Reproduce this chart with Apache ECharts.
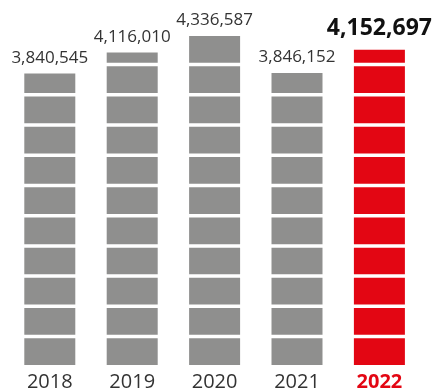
<!DOCTYPE html>
<html>
<head>
<meta charset="utf-8">
<script src="https://cdn.jsdelivr.net/npm/echarts@6/dist/echarts.min.js"></script>
<style>
  html, body { margin: 0; padding: 0; background: #ffffff; }
  #chart { width: 435px; height: 392px; }
</style>
</head>
<body>
<div id="chart"></div>
<script>
// Yearly totals
var years = ['2018', '2019', '2020', '2021', '2022'];
var totals = [3840545, 4116010, 4336587, 3846152, 4152697];
var currentYear = '2022';

var GREY = '#8f8f8e';
var RED = '#e30613';
var TEXT = '#333333';

var fmt = function (v) { return v.toLocaleString('en-US'); };

var categoryData = years.map(function (y) {
  return y === currentYear
    ? { value: y, textStyle: { color: RED, fontWeight: 'bold' } }
    : y;
});

// Segmented columns
var blockData = years.map(function (y, i) {
  return {
    value: totals[i],
    itemStyle: { color: y === currentYear ? RED : GREY }
  };
});

// Invisible bars carrying the value labels at the true bar top
var labelData = years.map(function (y, i) {
  var hot = y === currentYear;
  return {
    value: totals[i],
    label: hot
      ? { color: '#111111', fontWeight: 'bold', fontSize: 23, distance: 10 }
      : {}
  };
});

var chart = echarts.init(document.getElementById('chart'), null, { renderer: 'canvas' });
chart.setOption({
  animation: false,
  textStyle: { fontFamily: 'Open Sans' },
  grid: { left: 8.6, width: 412, top: 5.9, bottom: 26.3 },
  xAxis: {
    type: 'category',
    data: categoryData,
    axisLine: { show: false },
    axisTick: { show: false },
    axisLabel: { fontSize: 20, color: TEXT, margin: 7, fontFamily: 'Open Sans' }
  },
  yAxis: {
    type: 'value',
    min: 0,
    max: 4730000,
    show: false,
    splitLine: { show: false }
  },
  series: [{
    type: 'pictorialBar',
    symbol: 'rect',
    symbolRepeat: true,
    symbolClip: true,
    symbolSize: [51, 26.7],
    symbolMargin: 1.8,
    barWidth: 51,
    z: 3,
    data: blockData
  }, {
    type: 'bar',
    barWidth: 51,
    barGap: '-100%',
    z: 2,
    itemStyle: { color: 'rgba(0,0,0,0)' },
    emphasis: { disabled: true },
    data: labelData,
    label: {
      show: true,
      position: 'top',
      distance: 7,
      fontSize: 17,
      color: TEXT,
      fontFamily: 'Open Sans',
      formatter: function (p) { return fmt(p.value); }
    }
  }]
});
</script>
</body>
</html>
